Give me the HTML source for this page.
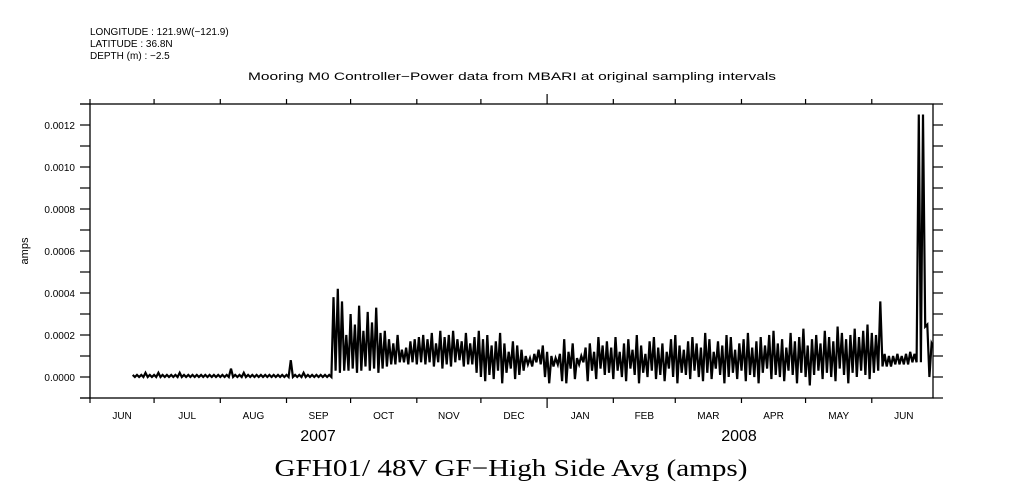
<!DOCTYPE html>
<html><head><meta charset="utf-8"><style>
html,body{margin:0;padding:0;background:#fff;}
svg{display:block;}
text{font-family:"Liberation Sans",sans-serif;fill:#000;}
</style></head><body>
<svg id="chart" width="1009" height="504" viewBox="0 0 1009 504" xmlns="http://www.w3.org/2000/svg">
<g font-size="10">
<text x="90" y="35">LONGITUDE : 121.9W(−121.9)</text>
<text x="90" y="47">LATITUDE : 36.8N</text>
<text x="90" y="59">DEPTH (m) : −2.5</text>
</g>
<text x="512" y="80" font-size="11" textLength="528" lengthAdjust="spacingAndGlyphs" text-anchor="middle">Mooring M0 Controller−Power data from MBARI at original sampling intervals</text>
<text transform="translate(28,251) rotate(-90)" font-size="11" text-anchor="middle">amps</text>
<g id="axes"></g>
<g id="series"></g>
<rect x="90" y="104" width="843" height="294" fill="none" stroke="#000" stroke-width="1.3"/>
<text x="318" y="441" font-size="16" text-anchor="middle">2007</text>
<text x="739" y="441" font-size="16" text-anchor="middle">2008</text>
<text x="511" y="476" font-size="24" textLength="473" lengthAdjust="spacingAndGlyphs" text-anchor="middle" style="font-family:'Liberation Serif',serif">GFH01/ 48V GF−High Side Avg (amps)</text>
</svg>
<script>
// values in 1e-5 amps, 2-day bins starting at day 20 from Jun 1 2007
const yTickValues=[0,0.0002,0.0004,0.0006,0.0008,0.0010,0.0012];
const yTickLabels=["0.0000","0.0002","0.0004","0.0006","0.0008","0.0010","0.0012"];
const monthLabels=["JUN","JUL","AUG","SEP","OCT","NOV","DEC","JAN","FEB","MAR","APR","MAY","JUN"];
const monthStartDays=[0,30,61,92,122,153,183,214,245,274,305,335,366,396];
const hiValues=[1,1,1,2,1,1,2,1,1,1,1,2,1,1,1,1,1,1,1,1,1,1,1,4,1,1,2,1,1,1,1,1,1,1,1,1,1,8,1,1,2,1,1,1,1,1,1,
38,42,36,
20,30,25,34,22,31,26,33,21,
22,18,16,20,13,14,17,18,19,
20,18,21,16,22,19,20,22,18,17,21,16,
19,22,18,20,15,17,21,16,12,17,15,13,
10,9,11,13,15,12,10,9,11,18,12,16,9,10,14,16,12,19,15,
17,14,19,12,16,18,13,20,15,11,17,19,14,16,12,18,20,15,13,17,19,16,14,21,18,12,17,15,20,19,13,16,18,21,14,17,19,15,20,22,16,18,14,21,17,19,23,15,18,20,16,22,19,17,24,21,18,20,23,19,22,25,21,
20,36,
11,10,10,11,10,11,12,11,
125,125,25,16,15];
const loValues=[0,0,0,0,0,0,0,0,0,0,0,0,0,0,0,0,0,0,0,0,0,0,0,0,0,0,0,0,0,0,0,0,0,0,0,0,0,0,0,0,0,0,0,0,0,0,0,
3,2,3,
3,4,2,3,5,3,4,2,4,
5,6,6,7,7,6,7,6,7,
6,7,5,7,4,6,5,7,8,5,6,6,
2,0,-2,1,-1,3,-3,2,4,-1,1,3,
6,5,7,6,0,-3,5,6,-2,-3,4,-1,6,7,-2,3,-1,4,1,
2,-1,3,0,-2,4,1,-3,2,0,3,-1,1,-2,4,0,-3,2,1,-1,3,0,-2,2,-1,4,1,-3,0,2,-1,3,-2,1,0,-3,2,4,-1,1,0,-2,3,1,-3,2,0,-4,1,3,-1,2,0,-2,4,1,-3,2,0,3,1,-1,2,
3,5,
5,5,6,6,6,6,7,7,
7,24,0,14,14];
const startDay=20, binDays=2;
const NS="http://www.w3.org/2000/svg";
const X0=90, PXD=2.136;
function xScale(d){return X0+d*PXD;}
function yScale(v){return 377-v/0.0002*42;}
const axes=document.getElementById('axes');
function ln(x1,y1,x2,y2,name){const l=document.createElementNS(NS,'line');l.setAttribute('x1',x1);l.setAttribute('y1',y1);l.setAttribute('x2',x2);l.setAttribute('y2',y2);l.setAttribute('stroke','#000');l.setAttribute('stroke-width','1.2');


axes.appendChild(l);}
for(let v=-0.0001;v<=0.00131;v+=0.0001){const y=yScale(v);ln(80,y,90,y,'y-tick-left');ln(933,y,943,y,'y-tick-right');}
yTickValues.forEach((v,i)=>{const t=document.createElementNS(NS,'text');t.setAttribute('x',75);t.setAttribute('y',yScale(v)+4);t.setAttribute('font-size','10');t.setAttribute('text-anchor','end');t.textContent=yTickLabels[i];


axes.appendChild(t);});
ln(80,104,90,104,'frame-ext');ln(80,398,90,398,'frame-ext');
monthStartDays.slice(0,13).forEach((d,i)=>{const x=xScale(d);const big=(i===7);
ln(x,398,x,big?408:403,'x-tick-bottom');ln(x,big?94:99,x,104,'x-tick-top');});
monthLabels.forEach((m,i)=>{const d=monthStartDays[i],next=monthStartDays[i+1];const t=document.createElementNS(NS,'text');t.setAttribute('x',xScale((d+next)/2));t.setAttribute('y',419);t.setAttribute('font-size','10');t.setAttribute('text-anchor','middle');t.textContent=m;


axes.appendChild(t);});
let pts=[];
hiValues.forEach((h,i)=>{const d=startDay+i*binDays;const x=xScale(d);pts.push(x.toFixed(1)+','+yScale(h*1e-5).toFixed(1));pts.push((x+PXD).toFixed(1)+','+yScale(loValues[i]*1e-5).toFixed(1));});
const pl=document.createElementNS(NS,'polyline');pl.setAttribute('points',pts.join(' '));pl.setAttribute('fill','none');pl.setAttribute('stroke','#000');pl.setAttribute('stroke-width','2.2');


const cp=document.createElementNS(NS,'clipPath');cp.setAttribute('id','clip');const cr=document.createElementNS(NS,'rect');cr.setAttribute('x',90);cr.setAttribute('y',104);cr.setAttribute('width',843);cr.setAttribute('height',294);cp.appendChild(cr);
document.getElementById('chart').appendChild(cp);
const s=document.getElementById('series');s.setAttribute('clip-path','url(#clip)');s.appendChild(pl);
</script>
</body></html>
